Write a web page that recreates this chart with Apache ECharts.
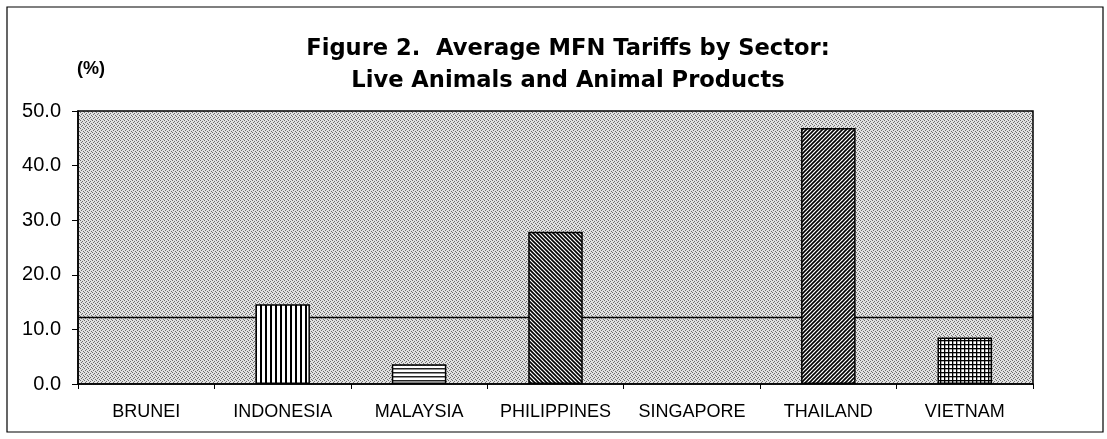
<!DOCTYPE html>
<html>
<head>
<meta charset="utf-8">
<script src="https://cdn.jsdelivr.net/npm/echarts@6/dist/echarts.min.js"></script>
<style>
html,body{margin:0;padding:0;background:#fff;}
#chart{width:1107px;height:439px;}
</style>
</head>
<body>
<div id="chart"></div>
<script>
var categories = ['BRUNEI','INDONESIA','MALAYSIA','PHILIPPINES','SINGAPORE','THAILAND','VIETNAM'];
var tariffValues = [0, 14.6, 3.6, 27.9, 0, 46.9, 8.5];
var averageValue = 12.3;
var yTicks = [0, 10, 20, 30, 40, 50];
var patternNames = ['none','vertical','horizontal','backslash','none','slash','grid'];

function makePattern(kind) {
  var s = kind === 'vertical' ? 5 : 4;
  var c = document.createElement('canvas');
  c.width = s; c.height = s;
  var g = c.getContext('2d');
  if (kind === 'bg') {
    g.fillStyle = '#e2e2e2'; g.fillRect(0,0,s,s);
    g.fillStyle = '#6e6e6e';
    g.fillRect(0,0,1,1); g.fillRect(2,1,1,1); g.fillRect(1,2,1,1); g.fillRect(3,3,1,1);
    return {image: c, repeat: 'repeat'};
  }
  g.fillStyle = '#ffffff'; g.fillRect(0,0,s,s);
  g.strokeStyle = '#000'; g.fillStyle = '#000';
  if (kind === 'vertical') {
    g.fillRect(0,0,2,s);
  } else if (kind === 'horizontal') {
    g.fillStyle = '#222';
    g.fillRect(0,0,s,1.5);
  } else if (kind === 'grid') {
    g.fillRect(0,0,s,1.3);
    g.fillRect(0,0,1.3,s);
  } else if (kind === 'backslash' || kind === 'slash') {
    g.lineWidth = 1.6;
    g.beginPath();
    if (kind === 'backslash') {
      g.moveTo(-1,-1); g.lineTo(s+1,s+1);
      g.moveTo(-1,s-1); g.lineTo(1,s+1);
      g.moveTo(s-1,-1); g.lineTo(s+1,1);
    } else {
      g.moveTo(-1,s+1); g.lineTo(s+1,-1);
      g.moveTo(-1,1); g.lineTo(1,-1);
      g.moveTo(s-1,s+1); g.lineTo(s+1,s-1);
    }
    g.stroke();
  }
  return {image: c, repeat: 'repeat'};
}

var barData = tariffValues.map(function (v, i) {
  return {
    value: v,
    itemStyle: {
      color: patternNames[i] === 'none' ? '#fff' : makePattern(patternNames[i]),
      borderColor: '#000',
      borderWidth: v > 0 ? 1.5 : 0
    }
  };
});

var chart = echarts.init(document.getElementById('chart'), null, {renderer: 'canvas'});
chart.setOption({
  animation: false,
  backgroundColor: '#fff',
  textStyle: {fontFamily: 'Liberation Sans, Arial, sans-serif', color: '#000'},
  title: {
    text: 'Figure 2.  Average MFN Tariffs by Sector:\nLive Animals and Animal Products',
    left: 563,
    top: 28,
    textAlign: 'center',
    textStyle: {fontSize: 22.6, fontWeight: 'bold', lineHeight: 32, color: '#000', fontFamily: 'DejaVu Sans, Liberation Sans, sans-serif'}
  },
  graphic: [
    {type: 'rect', shape: {x: 7, y: 7, width: 1096, height: 425}, style: {fill: 'none', stroke: '#000', lineWidth: 1.2}, silent: true},
    {type: 'text', left: 77, top: 60, style: {text: '(%)', font: 'bold 18px Liberation Sans, Arial, sans-serif', fill: '#000'}, silent: true}
  ],
  grid: {
    left: 78, right: 74, top: 111, bottom: 55,
    show: true,
    backgroundColor: makePattern('bg'),
    borderColor: '#000',
    borderWidth: 1.5
  },
  xAxis: {
    type: 'category',
    data: categories,
    axisLine: {lineStyle: {color: '#000', width: 1.5}},
    axisTick: {show: true, length: 5, lineStyle: {color: '#000'}},
    axisLabel: {interval: 0, fontSize: 18, color: '#000', margin: 19, fontFamily: 'Liberation Sans, Arial, sans-serif'},
    splitLine: {show: false}
  },
  yAxis: {
    type: 'value',
    min: yTicks[0],
    max: yTicks[yTicks.length - 1],
    interval: 10,
    axisLine: {show: true, lineStyle: {color: '#000', width: 1.5}},
    axisTick: {show: true, length: 6, lineStyle: {color: '#000'}},
    axisLabel: {fontSize: 20, color: '#000', margin: 17, formatter: function (v) { return v.toFixed(1); }, fontFamily: 'Liberation Sans, Arial, sans-serif'},
    splitLine: {show: false}
  },
  series: [
    {
      type: 'line',
      data: [],
      z: 1,
      silent: true,
      markLine: {
        silent: true,
        z: 1,
        symbol: 'none',
        label: {show: false},
        lineStyle: {color: '#000', width: 1.3, type: 'solid'},
        data: [{yAxis: averageValue}]
      }
    },
    {
      type: 'bar',
      z: 3,
      barWidth: '40%',
      data: barData
    }
  ]
});
</script>
</body>
</html>
